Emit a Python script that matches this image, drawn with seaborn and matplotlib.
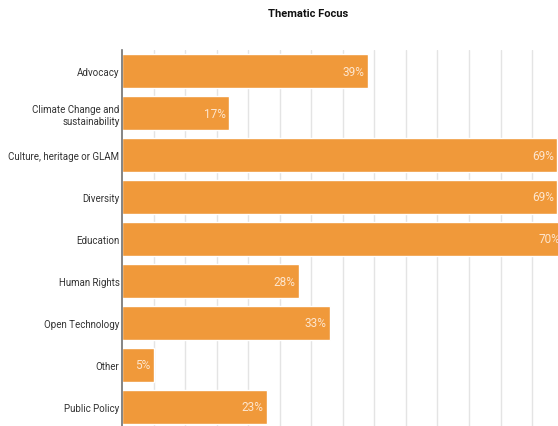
import numpy as np
import pandas as pd
import seaborn as sns
import matplotlib.pyplot as plt

# values
categories = ["Advocacy", "Climate Change and\nsustainability", "Culture, heritage or GLAM",
              "Diversity", "Education", "Human Rights", "Open Technology", "Other", "Public Policy"]
percent = [39, 17, 69, 69, 70, 28, 33, 5, 23]

df = pd.DataFrame({"category": categories, "percent": percent})

sns.set_style("white")
plt.rcParams['font.family'] = ['Roboto', 'DejaVu Sans']

fig = plt.figure(figsize=(5.58, 4.27), dpi=100)
ax = fig.add_axes([122 / 558, -2 / 427, 1 - 122 / 558, 378 / 427])

sns.barplot(data=df, x="percent", y="category", orient="h", color="#F0993A",
            saturation=1, width=0.79, ax=ax, zorder=2)

ax.set_xlim(0, 69.1)
ax.set_xticks(np.arange(5, 70, 5))
ax.set_xticklabels([])
ax.tick_params(axis="both", length=0)
ax.xaxis.grid(True, color="#E4E4E4", linewidth=1, zorder=0)
ax.set_axisbelow(True)
ax.set_xlabel("")
ax.set_ylabel("")
for s in ["top", "right", "bottom"]:
    ax.spines[s].set_visible(False)
ax.spines["left"].set_color("#707070")
ax.spines["left"].set_linewidth(1.2)
ax.spines["left"].set_zorder(3)
ax.tick_params(axis="y", labelsize=7, labelcolor="#333333", pad=1.8)
for lbl in ax.get_yticklabels():
    lbl.set_multialignment("right")

for i, v in enumerate(percent):
    ax.annotate(f"{v}%", xy=(v, i), xytext=(-2.5, 0), textcoords="offset points",
                ha="right", va="center", fontsize=8.5, color="#FDE6CF",
                clip_on=False, annotation_clip=False, zorder=4)

fig.text(308 / 558, 1 - 14 / 427, "Thematic Focus", ha="center", va="center",
         fontsize=8, fontweight="bold", color="#111111")

fig.savefig("out.png", dpi=100)
